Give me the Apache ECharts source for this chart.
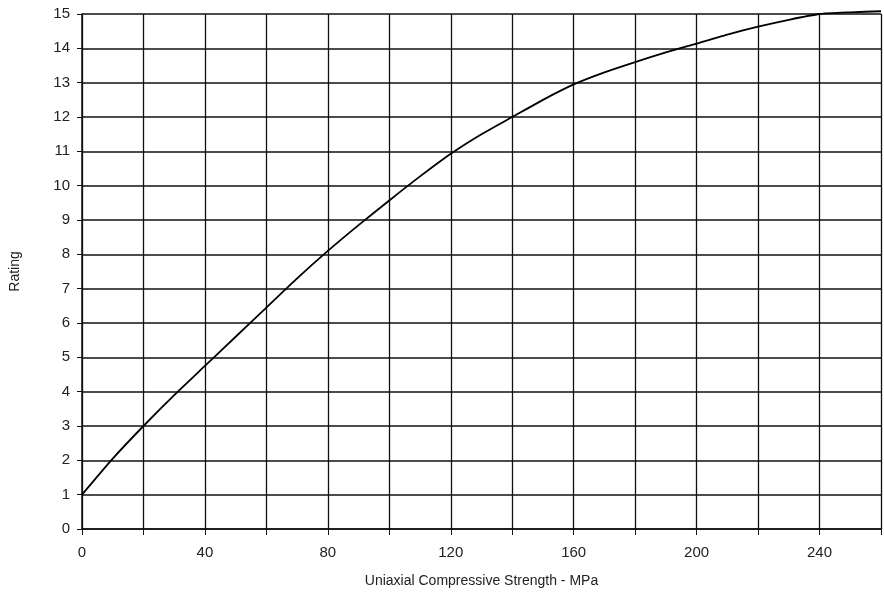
<!DOCTYPE html>
<html>
<head>
<meta charset="utf-8">
<script src="https://cdn.jsdelivr.net/npm/echarts@6/dist/echarts.min.js"></script>
<style>
html,body{margin:0;padding:0;background:#fff;}
#chart{width:884px;height:594px;}
</style>
</head>
<body>
<div id="chart"></div>
<script>
var strength = [0,10,20,30,40,50,60,70,80,90,100,110,120,130,140,150,160,170,180,190,200,210,220,230,240,250,260];
var rating = [1,2.05,3.0,3.9,4.75,5.6,6.45,7.3,8.1,8.85,9.57,10.27,10.93,11.5,12.0,12.5,12.95,13.3,13.6,13.88,14.14,14.4,14.63,14.83,15.0,15.05,15.08];
var xTitle = 'Uniaxial Compressive Strength - MPa';
var yTitle = 'Rating';

var chart = echarts.init(document.getElementById('chart'));
var pts = strength.map(function(x,i){return [x, rating[i]];});
var lbl = {fontFamily: 'Liberation Sans', fontSize: 15, color: '#222'};
chart.setOption({
  animation: false,
  backgroundColor: '#fff',
  grid: {left: 81, right: 1, top: 14, bottom: 65},
  xAxis: {
    type: 'value', min: 0, max: 260, interval: 20,
    name: xTitle, nameLocation: 'middle', nameGap: 45,
    nameTextStyle: {fontFamily: 'Liberation Sans', fontSize: 14, color: '#222'},
    axisLine: {show: true, lineStyle: {color: '#111', width: 1.5}},
    axisTick: {show: true, length: 6, lineStyle: {color: '#111'}},
    axisLabel: Object.assign({margin: 16,
      formatter: function(v){ return (v % 40 === 0 && v < 260) ? String(v) : ''; }}, lbl),
    splitLine: {show: true, lineStyle: {color: '#111', width: 1.3}}
  },
  yAxis: {
    type: 'value', min: 0, max: 15, interval: 1,
    name: yTitle, nameLocation: 'middle', nameGap: 60, nameRotate: 90,
    nameTextStyle: {fontFamily: 'Liberation Sans', fontSize: 14, color: '#222'},
    axisLine: {show: true, lineStyle: {color: '#111', width: 1.5}},
    axisTick: {show: true, length: 5, lineStyle: {color: '#111'}},
    axisLabel: Object.assign({margin: 12}, lbl),
    splitLine: {show: true, lineStyle: {color: '#111', width: 1.5}}
  },
  series: [{
    type: 'line', data: pts, smooth: 0.2, showSymbol: false, clip: false,
    lineStyle: {color: '#000', width: 1.8}
  }]
});
</script>
</body>
</html>
